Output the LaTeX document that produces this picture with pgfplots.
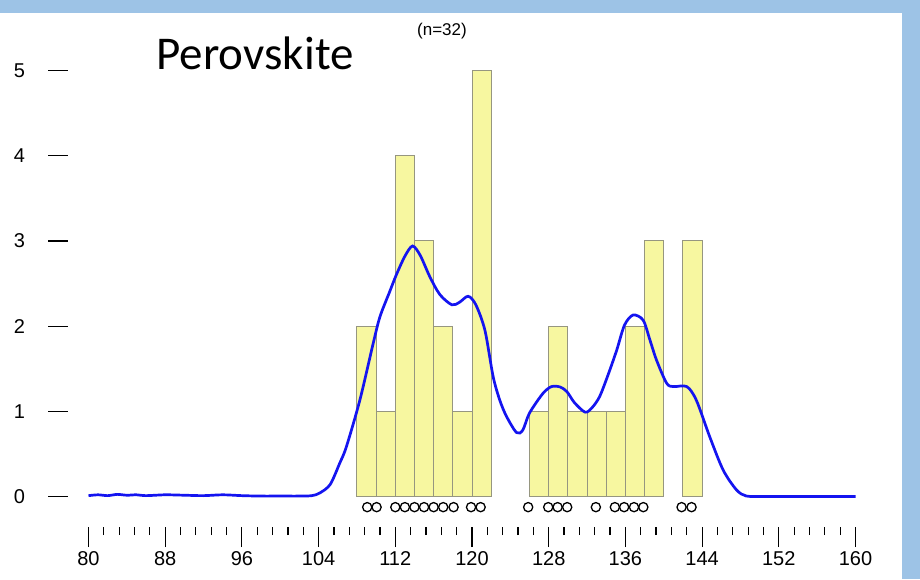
\documentclass[border=0pt]{standalone}
\usepackage{pgfplots}
\pgfplotsset{compat=1.18}
\usepackage{fontspec}
\setmainfont{Liberation Sans}
\newfontfamily\carlito{Carlito}
\definecolor{bandblue}{RGB}{157,195,230}
\definecolor{barfill}{RGB}{247,247,160}
\definecolor{baredge}{RGB}{150,150,128}
\definecolor{curveblue}{RGB}{20,20,240}
\begin{document}
\begin{tikzpicture}
\fill[white] (0pt,0pt) rectangle (460pt,289.5pt);
\fill[bandblue] (0pt,283pt) rectangle (460pt,289.5pt);
\fill[bandblue] (451pt,0pt) rectangle (460pt,289.5pt);
\begin{axis}[
  at={(34pt,26pt)}, anchor=south west,
  scale only axis, width=393.75pt, height=249.55pt,
  xmin=77.862, xmax=160, ymin=-0.358, ymax=5.5,
  clip=false,
  axis x line=bottom, axis y line=left,
  axis line style={draw=none},
  tick align=outside,
  major tick length=10pt, minor tick length=4pt,
  tick style={draw=black, line width=0.6pt},
  xtick={80,88,...,160}, minor x tick num=4,
  ytick={0,1,2,3,4,5},
  ticklabel style={font=\fontsize{10}{11}\selectfont},
  /pgf/number format/assume math mode=true,
  yticklabel style={xshift=-8pt},
  xticklabel style={yshift=1.2pt},
]
\addplot[ybar interval, fill=barfill, draw=baredge, line width=0.5pt]
  coordinates {(108,2)(110,1)(112,4)(114,3)(116,2)(118,1)(120,5)(122,0)};
\addplot[ybar interval, fill=barfill, draw=baredge, line width=0.5pt]
  coordinates {(126,1)(128,2)(130,1)(132,1)(134,1)(136,2)(138,3)(140,0)};
\addplot[ybar interval, fill=barfill, draw=baredge, line width=0.5pt]
  coordinates {(142,3)(144,0)};
\addplot[curveblue, line width=1.35pt, smooth, tension=0.5] coordinates {
(80,0.01)(81,0.02)(82,0.01)(83,0.025)(84,0.015)(85,0.02)(86,0.01)(88,0.02)(90,0.015)(92,0.01)(94,0.02)(96,0.01)(98,0.005)(100,0.005)(102,0.005)(103.3,0.01)(104.1,0.04)(105.2,0.14)(106.2,0.39)(106.9,0.585)(108.3,1.13)(109.7,1.80)(110.4,2.11)(111.4,2.40)(112.1,2.60)(113,2.82)(113.8,2.94)(114.6,2.83)(115.6,2.58)(116.65,2.37)(117.9,2.25)(118.7,2.28)(119.6,2.35)(120.4,2.25)(121.35,1.95)(122.2,1.41)(122.9,1.13)(123.6,0.94)(124.65,0.75)(125.3,0.78)(126.0,0.98)(127.4,1.21)(128.3,1.29)(129.2,1.285)(129.9,1.23)(130.7,1.10)(131.8,0.99)(132.5,1.04)(133.3,1.17)(134.2,1.43)(135.1,1.72)(135.9,2.01)(136.8,2.13)(137.85,2.07)(138.55,1.84)(139.25,1.60)(140.3,1.33)(141.0,1.29)(142.4,1.29)(143.4,1.13)(144.8,0.70)(146.2,0.31)(147.6,0.076)(148.6,0.006)(150,0)(155,0)(160,0)
};
\addplot[only marks, mark=o, mark size=2.3pt, mark options={line width=0.65pt, draw=black}] coordinates {
(109.07,-0.125)(110.05,-0.125)(112.0,-0.125)(113.0,-0.125)(114.0,-0.125)(115.0,-0.125)(116.0,-0.125)(117.0,-0.125)(118.08,-0.125)(119.9,-0.125)(120.9,-0.125)
(125.86,-0.125)(127.95,-0.125)(128.93,-0.125)(129.93,-0.125)(132.92,-0.125)(134.9,-0.125)(135.87,-0.125)(136.9,-0.125)(137.87,-0.125)(141.86,-0.125)(142.9,-0.125)
};
\end{axis}
\node[font=\carlito\fontsize{23.5}{27}\selectfont] at (127.5pt,263pt) {Perovskite};
\node[font=\fontsize{8.5}{10}\selectfont] at (221pt,274pt) {(n=32)};
\pgfresetboundingbox
\path[use as bounding box] (0pt,0pt) rectangle (460pt,289.5pt);
\end{tikzpicture}
\end{document}
